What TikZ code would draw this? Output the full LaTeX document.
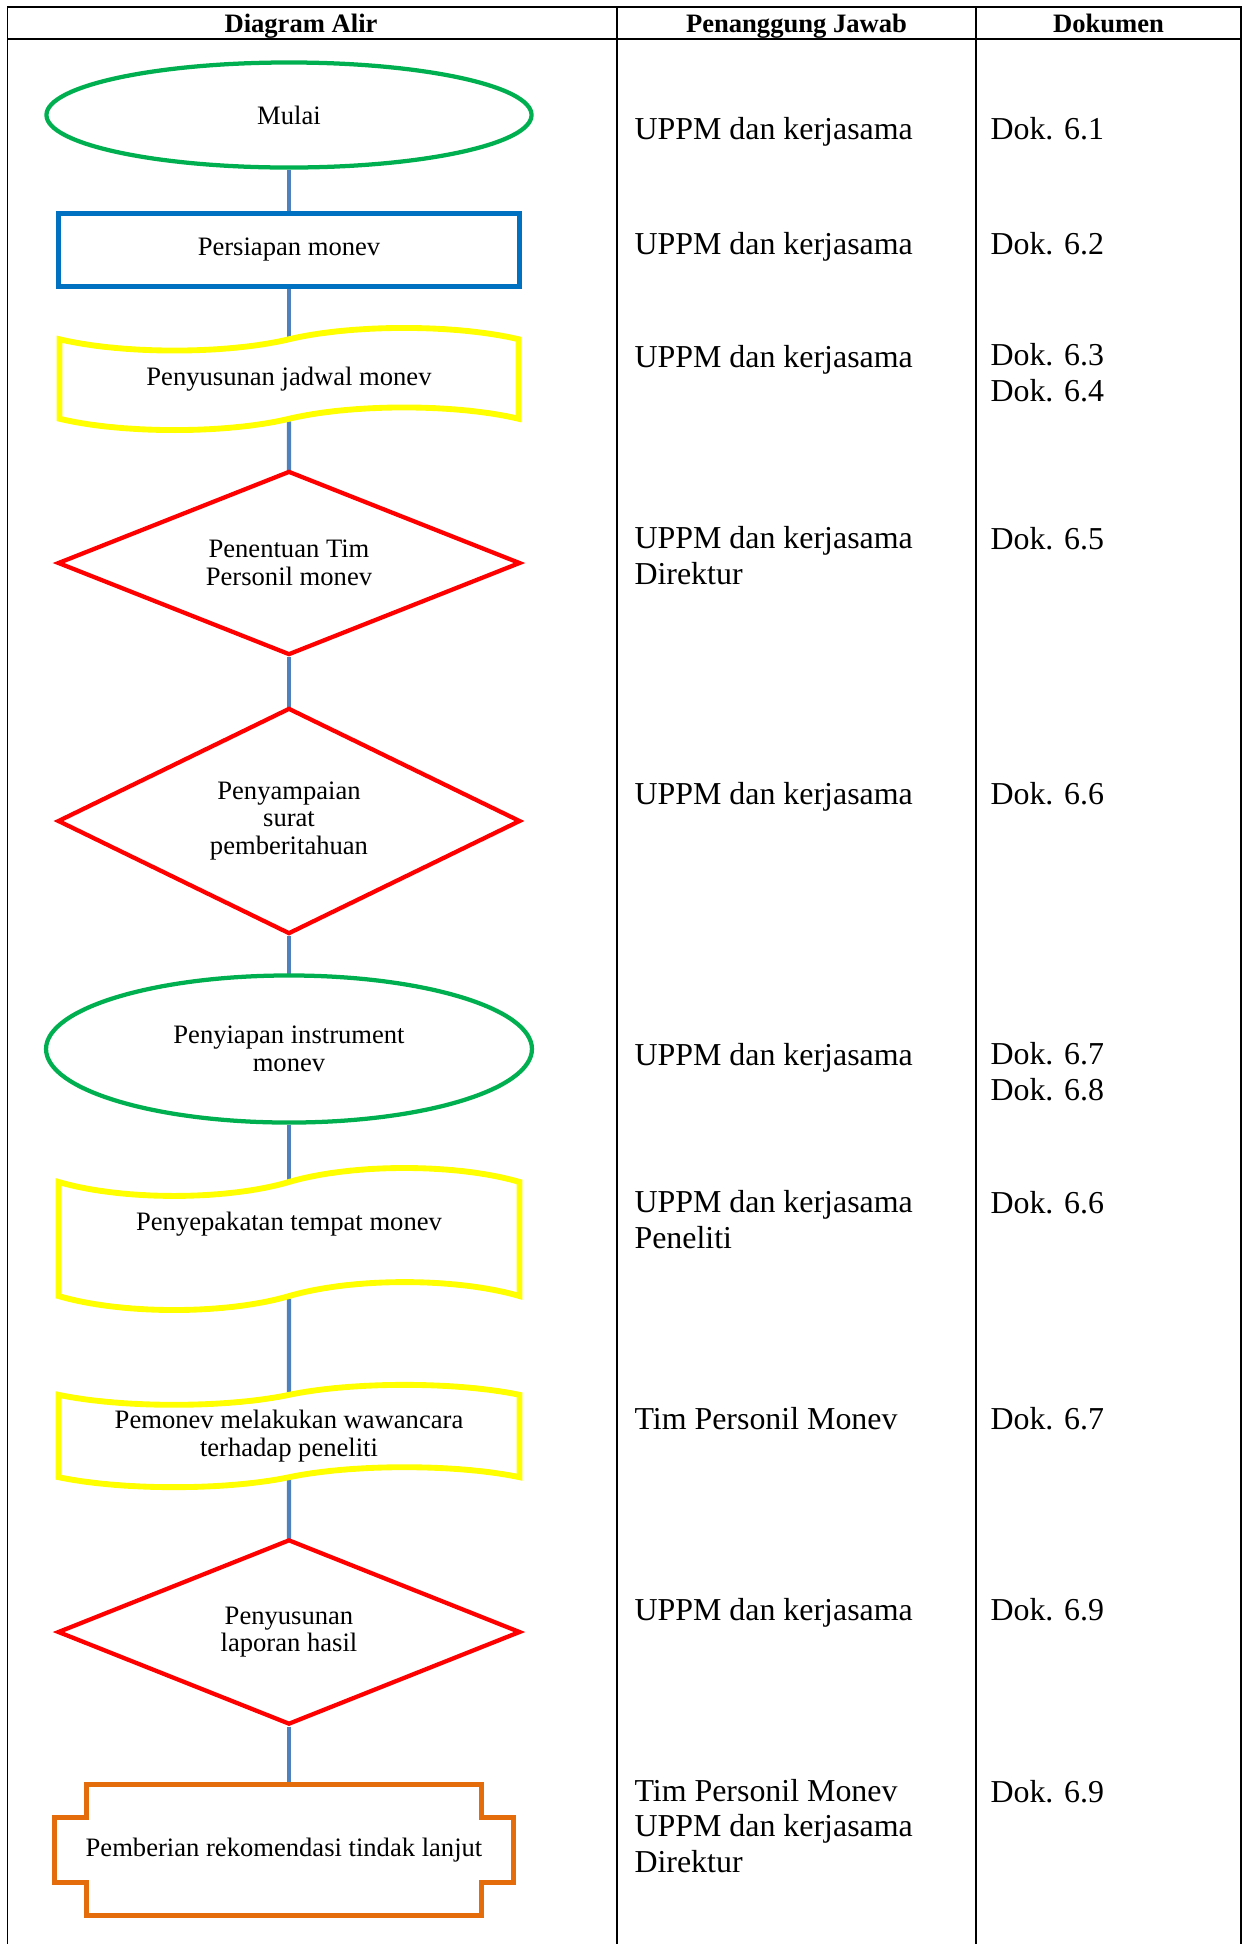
\documentclass[tikz,border=0pt]{standalone}
\usepackage{fontspec}
\setmainfont{Liberation Serif}
\usetikzlibrary{shapes.geometric, shapes.symbols, backgrounds, calc}

\definecolor{startgreen}{RGB}{0,176,80}
\definecolor{stepblue}{RGB}{0,112,192}
\definecolor{tapeyellow}{RGB}{255,255,0}
\definecolor{decisionred}{RGB}{255,0,0}
\definecolor{plaqueorange}{RGB}{228,108,10}
\definecolor{linkblue}{RGB}{79,129,189}

\begin{document}
\begin{tikzpicture}[x=0.376pt, y=0.376pt,
    grid/.style={line width=0.6pt, line cap=rect},
    head/.style={anchor=base, font=\fontsize{10}{12}\selectfont\bfseries},
    resp/.style={anchor=base west, align=left, inner sep=0pt,
                 font=\fontsize{12}{13.2}\selectfont},
    shapetext/.style={align=center, font=\fontsize{10}{10.4}\selectfont,
                      fill=white, inner sep=2pt},
    terminal/.style={shapetext, ellipse, draw=startgreen, line width=1.6pt},
    process/.style={shapetext, rectangle, draw=stepblue, line width=1.9pt},
    punched/.style={shapetext, tape, draw=tapeyellow, line width=2.2pt},
    decision/.style={shapetext, diamond, aspect=2.5, draw=decisionred, line width=1.6pt},
    flowline/.style={linkblue, line width=1.6pt}]

    \useasboundingbox (0,0) rectangle (1244,-1944);

    % Table frame
    \draw[grid] (7.5,-7) -- (1241,-7);
    \draw[grid] (7.5,-39) -- (1241,-39);
    \foreach \x in {7.5,617,976,1241}
        \draw[grid] (\x,-7) -- (\x,-1950);

    % Header
    \node[head] (hflow) at (301,-32) {Diagram Alir};
    \node[head] (hresp) at (796.5,-32) {Penanggung Jawab};
    \node[head] (hdoc) at (1108.5,-32) {Dokumen};

    % Flow chart - left column
    \node[terminal, minimum width=182.4pt, minimum height=39.5pt] (mulai) at (289,-115) {Mulai};
    \node[process, minimum width=173pt, minimum height=27.4pt] (persiapan) at (289,-250) {Persiapan monev};
    \node[punched, minimum width=172.6pt, minimum height=38.4pt, tape bend height=8.5pt] (jadwal) at (289,-379) {Penyusunan jadwal monev};
    \node[decision, minimum width=174pt, minimum height=69.2pt] (penentuan) at (289,-563) {Penentuan Tim\\Personil monev};
    \node[decision, minimum width=174pt, minimum height=85pt] (penyampaian) at (289,-821) {Penyampaian\\surat\\pemberitahuan};
    \node[terminal, minimum width=182.7pt, minimum height=55.3pt] (instrumen) at (289,-1049) {Penyiapan instrument\\monev};
    \node[punched, minimum width=173.3pt, minimum height=53.4pt, tape bend height=10.5pt] (sepakat) at (289,-1239) {Penyepakatan tempat monev\\[3pt]\mbox{}};
    \node[punched, minimum width=173.3pt, minimum height=34.6pt, tape bend height=7.5pt] (wawancara) at (289,-1436) {Pemonev melakukan wawancara\\terhadap peneliti};
    \node[decision, minimum width=174pt, minimum height=69.6pt] (laporan) at (289,-1632) {Penyusunan\\laporan hasil};
    \node[shapetext, minimum width=172.6pt, minimum height=49.3pt, inner sep=0pt, outer sep=0pt] (rekom) at (284,-1850) {Pemberian rekomendasi tindak lanjut};
    \draw[plaqueorange, line width=1.9pt]
        ($(rekom.north west)+(32,0)$) -- ($(rekom.north east)+(-32,0)$)
        -- ($(rekom.north east)+(-32,-33)$) -- ($(rekom.north east)+(0,-33)$)
        -- ($(rekom.south east)+(0,33)$) -- ($(rekom.south east)+(-32,33)$)
        -- ($(rekom.south east)+(-32,0)$) -- ($(rekom.south west)+(32,0)$)
        -- ($(rekom.south west)+(32,33)$) -- ($(rekom.south west)+(0,33)$)
        -- ($(rekom.north west)+(0,-33)$) -- ($(rekom.north west)+(32,-33)$)
        -- cycle;

    % Connectors
    \begin{scope}[on background layer]
        \foreach \u/\v in {mulai/persiapan, persiapan/jadwal, jadwal/penentuan,
                           penentuan/penyampaian, penyampaian/instrumen, instrumen/sepakat,
                           sepakat/wawancara, wawancara/laporan, laporan/rekom}
            \draw[flowline] (\u) -- (\u |- \v);
    \end{scope}

    % Penanggung jawab (base = last line)
    \node[resp] (pj1) at (634,-139) {UPPM dan kerjasama};
    \node[resp] (pj2) at (634,-254) {UPPM dan kerjasama};
    \node[resp] (pj3) at (634,-367) {UPPM dan kerjasama};
    \node[resp] (pj4) at (634,-584) {UPPM dan kerjasama\\Direktur};
    \node[resp] (pj5) at (634,-804) {UPPM dan kerjasama};
    \node[resp] (pj6) at (634,-1065) {UPPM dan kerjasama};
    \node[resp] (pj7) at (634,-1248) {UPPM dan kerjasama\\Peneliti};
    \node[resp] (pj8) at (634,-1429) {Tim Personil Monev};
    \node[resp] (pj9) at (634,-1620) {UPPM dan kerjasama};
    \node[resp] (pj10) at (634,-1872) {Tim Personil Monev\\UPPM dan kerjasama\\Direktur};

    % Dokumen
    \node[resp] (dok1) at (990,-139) {Dok. 6.1};
    \node[resp] (dok2) at (990,-254) {Dok. 6.2};
    \node[resp] (dok3) at (990,-401) {Dok. 6.3\\Dok. 6.4};
    \node[resp] (dok4) at (990,-549) {Dok. 6.5};
    \node[resp] (dok5) at (990,-804) {Dok. 6.6};
    \node[resp] (dok6) at (990,-1100) {Dok. 6.7\\Dok. 6.8};
    \node[resp] (dok7) at (990,-1213) {Dok. 6.6};
    \node[resp] (dok8) at (990,-1429) {Dok. 6.7};
    \node[resp] (dok9) at (990,-1620) {Dok. 6.9};
    \node[resp] (dok10) at (990,-1802) {Dok. 6.9};
\end{tikzpicture}
\end{document}
